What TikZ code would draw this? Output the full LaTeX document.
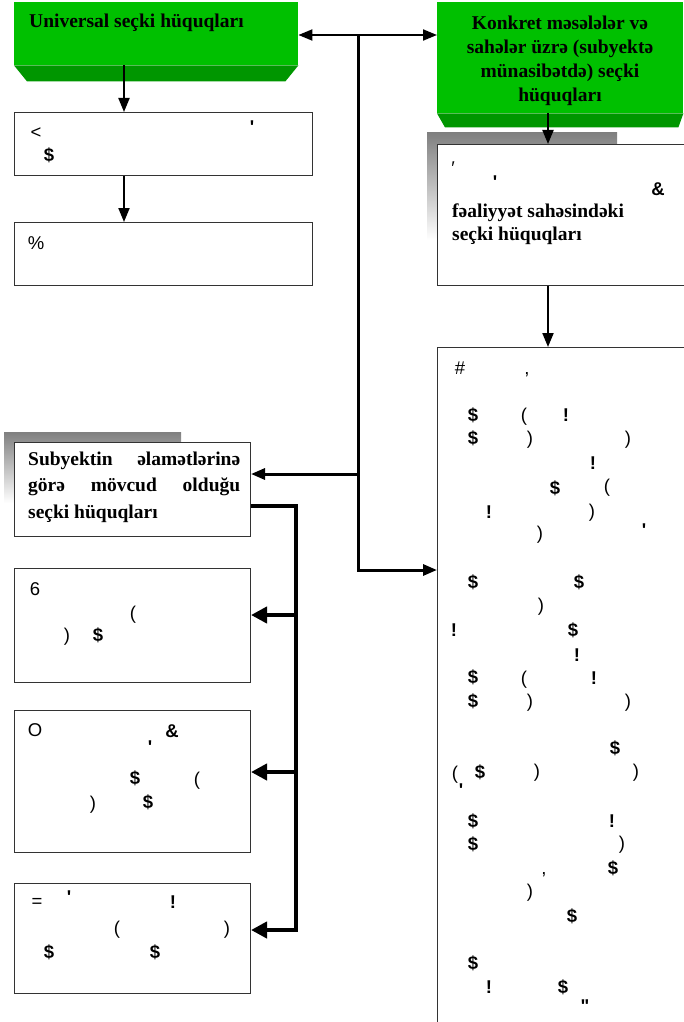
\documentclass[tikz,border=0pt]{standalone}
\usepackage{fontspec}
\usepackage{tikz}
\usetikzlibrary{arrows.meta}
\setmainfont{Liberation Serif}
\newfontfamily\glyphfont{Liberation Sans}
\newcommand{\dollarmark}{{\bfseries\$}}
\definecolor{grfront}{RGB}{0,192,0}
\definecolor{grbevel}{RGB}{0,150,0}
\definecolor{shade}{RGB}{128,128,128}
\tikzstyle{box} = [draw=black!80, line width=1pt, fill=white, anchor=north west, inner sep=0]
\tikzstyle{greenbox} = [fill=grfront, anchor=north west, inner sep=0]
\tikzstyle{heading} = [inner sep=0, font=\bfseries\fontsize{19.5}{24}\selectfont]
\tikzstyle{glyph} = [inner sep=0, font=\glyphfont\fontsize{18.5}{18.5}\selectfont]
\tikzstyle{linkarr} = [line width=2pt, -{Triangle[length=14pt,width=11pt]}]
\tikzstyle{forkarr} = [line width=4pt, -{Triangle[length=16pt,width=16pt]}]

\begin{document}
\begin{tikzpicture}[x=1pt,y=-1pt]
			\tikzset{every node/.style={inner sep=0}}
\useasboundingbox (0,0) rectangle (684,1022);
\clip (0,0) rectangle (684,1022);

\fill[shade] (427,133) rectangle (617,240);
\fill[shade] (4,432) rectangle (181,503);

\node[greenbox, minimum width=284pt, minimum height=63pt] (green1) at (14,2) {};
\fill[grbevel] (green1.south west) -- (green1.south east) -- ++(-13,16) -- ([shift={(13,16)}]green1.south west) -- cycle;
\node[greenbox, minimum width=246pt, minimum height=111pt] (green2) at (437,2) {};
\fill[grbevel] (green2.south west) -- (green2.south east) -- ++(-5,14) -- ([shift={(8,14)}]green2.south west) -- cycle;

\node[box, minimum width=298pt, minimum height=63pt] (boxA) at (14,112) {};
\node[box, minimum width=298pt, minimum height=63pt] (boxB) at (14,222) {};
\node[box, minimum width=260pt, minimum height=141pt] (boxC) at (437,144) {};
\node[box, minimum width=260pt, minimum height=690pt] (boxD) at (437,347) {};
\node[box, minimum width=236pt, minimum height=94pt] (boxE) at (14,442) {};
\node[box, minimum width=236pt, minimum height=114pt] (boxF) at (14,568) {};
\node[box, minimum width=236pt, minimum height=142pt] (boxG) at (14,710) {};
\node[box, minimum width=236pt, minimum height=110pt] (boxH) at (14,883) {};

\node[heading, anchor=base west] (univ) at (29,28) {Universal seçki hüquqları};
\node[heading, anchor=base, align=center] (konkret) at (560,102) {Konkret məsələlər və\\sahələr üzrə (subyektə\\münasibətdə) seçki\\hüquqları};
\node[heading, anchor=base west, align=left, font=\bfseries\fontsize{19.5}{23}\selectfont] (faal) at (452,240) {fəaliyyət sahəsindəki\\seçki hüquqları};
\node[heading, anchor=base west, align=left, font=\bfseries\fontsize{19.5}{26.5}\selectfont] (subyekt) at (28,518) {\makebox[212pt][s]{Subyektin əlamətlərinə}\\\makebox[212pt][s]{görə mövcud olduğu}\\seçki hüquqları};

\foreach \x/\y/\c [count=\i] in {36/133/<, 252/127/{\bfseries\textquotesingle}, 49/155/\dollarmark, 36/243/\%,
	453/168/′, 495/182/{\bfseries\textquotesingle}, 658/189/{\bfseries\&},
	460/368/\#, 527/375/{,}, 473/415/\dollarmark, 524/417/(, 566/415/{\bfseries!}, 473/438/\dollarmark, 530/440/), 628/440/),
	593/463/{\bfseries!}, 555/488/\dollarmark, 607/488/(, 489/512/{\bfseries!}, 592/513/), 540/535/), 644/530/{\bfseries\textquotesingle},
	473/582/\dollarmark, 579/582/\dollarmark, 541/607/), 454/630/{\bfseries!}, 573/630/\dollarmark, 577/655/{\bfseries!}, 473/677/\dollarmark, 524/680/(,
	594/678/{\bfseries!}, 473/701/\dollarmark, 530/703/), 628/703/), 615/748/\dollarmark, 455/775/(, 480/772/\dollarmark, 537/773/), 636/773/),
	461/790/{\bfseries\textquotesingle}, 473/821/\dollarmark, 612/821/{\bfseries!}, 473/844/\dollarmark, 622/845/), 613/868/\dollarmark, 544/875/{,},
	530/893/), 572/916/\dollarmark, 473/963/\dollarmark, 489/987/{\bfseries!}, 563/987/\dollarmark, 585/1006/{\bfseries\textquotedbl},
	35/589/6, 133/615/(, 67/637/), 98/635/\dollarmark,
	35/730/O, 172/731/{\bfseries\&}, 150/747/{\bfseries\textquotesingle}, 135/778/\dollarmark, 197/781/(, 93/805/), 148/802/\dollarmark,
	37/903/=, 69/897/{\bfseries\textquotesingle}, 173/902/{\bfseries!}, 117/930/(, 227/930/), 49/952/\dollarmark, 155/952/\dollarmark}
{
	\node[glyph] (gl\i) at (\x,\y) {\c};
}

\coordinate (colL) at (124,0);
\coordinate (colR) at (548,0);
\coordinate (top) at (358,35);
\coordinate (midE) at (358,474);
\coordinate (bot) at (358,570);
\coordinate (forkT) at (296,506);
\coordinate (forkB) at (296,930);
\coordinate (forkF) at (296,615);
\coordinate (forkG) at (296,772);

\draw[linkarr] (green1.south -| colL) -- (boxA.north -| colL);
\draw[linkarr] (boxA.south -| colL) -- (boxB.north -| colL);
\draw[linkarr] (green2.south -| colR) -- (boxC.north -| colR);
\draw[linkarr] (boxC.south -| colR) -- (boxD.north -| colR);
\draw[linkarr] (top) -- (green1.east |- top);
\draw[linkarr] (top) -- (green2.west |- top);
\draw[linkarr, line width=3pt] (top) -- (bot) -- (boxD.west |- bot);
\draw[linkarr, line width=3pt] (midE) -- (boxE.east |- midE);

\draw[forkarr] (boxE.east |- forkT) -- (forkT) -- (forkB) -- (boxH.east |- forkB);
\foreach \from/\to in {forkF/boxF, forkG/boxG}
{
	\draw[forkarr] (\from) -- (\to.east |- \from);
}

		\end{tikzpicture}
\end{document}
